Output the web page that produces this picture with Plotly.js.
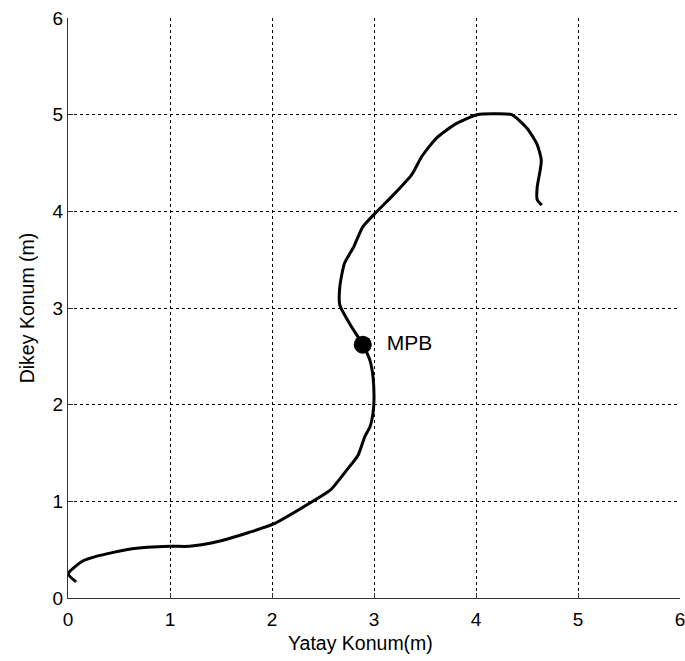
<!DOCTYPE html>
<html><head><meta charset="utf-8">
<script src="https://cdn.plot.ly/plotly-3.0.1.min.js"></script>
<style>body{margin:0;background:#fff}#plot{width:685px;height:661px}</style>
</head><body><div id="plot"></div>
<script>
const pathX = [0.08, 0.003, 0.14, 0.275, 0.63, 1.0, 1.19, 1.49, 1.78, 2.01, 2.40, 2.57, 2.73, 2.845, 2.91, 2.96, 2.99, 3.0, 2.99, 2.96, 2.89, 2.76, 2.665, 2.665, 2.71, 2.80, 2.89, 3.03, 3.19, 3.37, 3.47, 3.615, 3.81, 4.01, 4.17, 4.35, 4.50, 4.60, 4.64, 4.63, 4.60, 4.60, 4.645];
const pathY = [0.166, 0.25, 0.38, 0.43, 0.51, 0.535, 0.535, 0.59, 0.68, 0.763, 1.0, 1.115, 1.32, 1.48, 1.67, 1.77, 1.91, 2.05, 2.29, 2.46, 2.62, 2.84, 3.03, 3.22, 3.46, 3.63, 3.84, 4.0, 4.17, 4.38, 4.57, 4.76, 4.91, 5.0, 5.01, 5.0, 4.86, 4.69, 4.53, 4.43, 4.25, 4.12, 4.065];
const mpbX = [2.89];
const mpbY = [2.62];
const mpbLabel = 'MPB';
const tickVals = [0, 1, 2, 3, 4, 5, 6];
const xTitle = 'Yatay Konum(m)';
const yTitle = 'Dikey Konum (m)';

const family = 'Arial, Liberation Sans, sans-serif';
const tickFont = {family: family, size: 19, color: '#000'};
const titleFont = {family: family, size: 19.5, color: '#000'};
const axisCommon = {
  range: [0, 6], tickvals: tickVals, ticks: 'inside', ticklen: 5, tickcolor: '#333',
  showline: true, linecolor: '#333', linewidth: 1, mirror: false,
  showgrid: true, gridcolor: '#000', gridwidth: 1, griddash: '3px,3px',
  zeroline: false, tickfont: tickFont, fixedrange: true, ticklabeloverflow: 'allow'
};
Plotly.newPlot('plot', [
  {x: pathX, y: pathY, mode: 'lines', line: {color: '#000', width: 3, shape: 'spline', smoothing: 0.6}, hoverinfo: 'skip'},
  {x: mpbX, y: mpbY, mode: 'markers+text', marker: {color: '#000', size: 18},
   text: ['  ' + mpbLabel], textposition: 'middle right',
   textfont: {family: family, size: 21, color: '#000'}}
], {
  width: 685, height: 661, showlegend: false,
  paper_bgcolor: '#fff', plot_bgcolor: '#fff',
  margin: {l: 68, r: 5, t: 18, b: 63},
  xaxis: Object.assign({}, axisCommon, {ticklabelstandoff: 4}),
  yaxis: Object.assign({}, axisCommon, {title: {text: yTitle, font: titleFont, standoff: 12}}),
  annotations: [{text: xTitle, xref: 'paper', yref: 'paper', x: (360 - 68) / 612, y: -0.0,
    yshift: -45, xanchor: 'center', yanchor: 'middle', showarrow: false, font: titleFont}]
}, {displayModeBar: false, staticPlot: true});
</script></body></html>
